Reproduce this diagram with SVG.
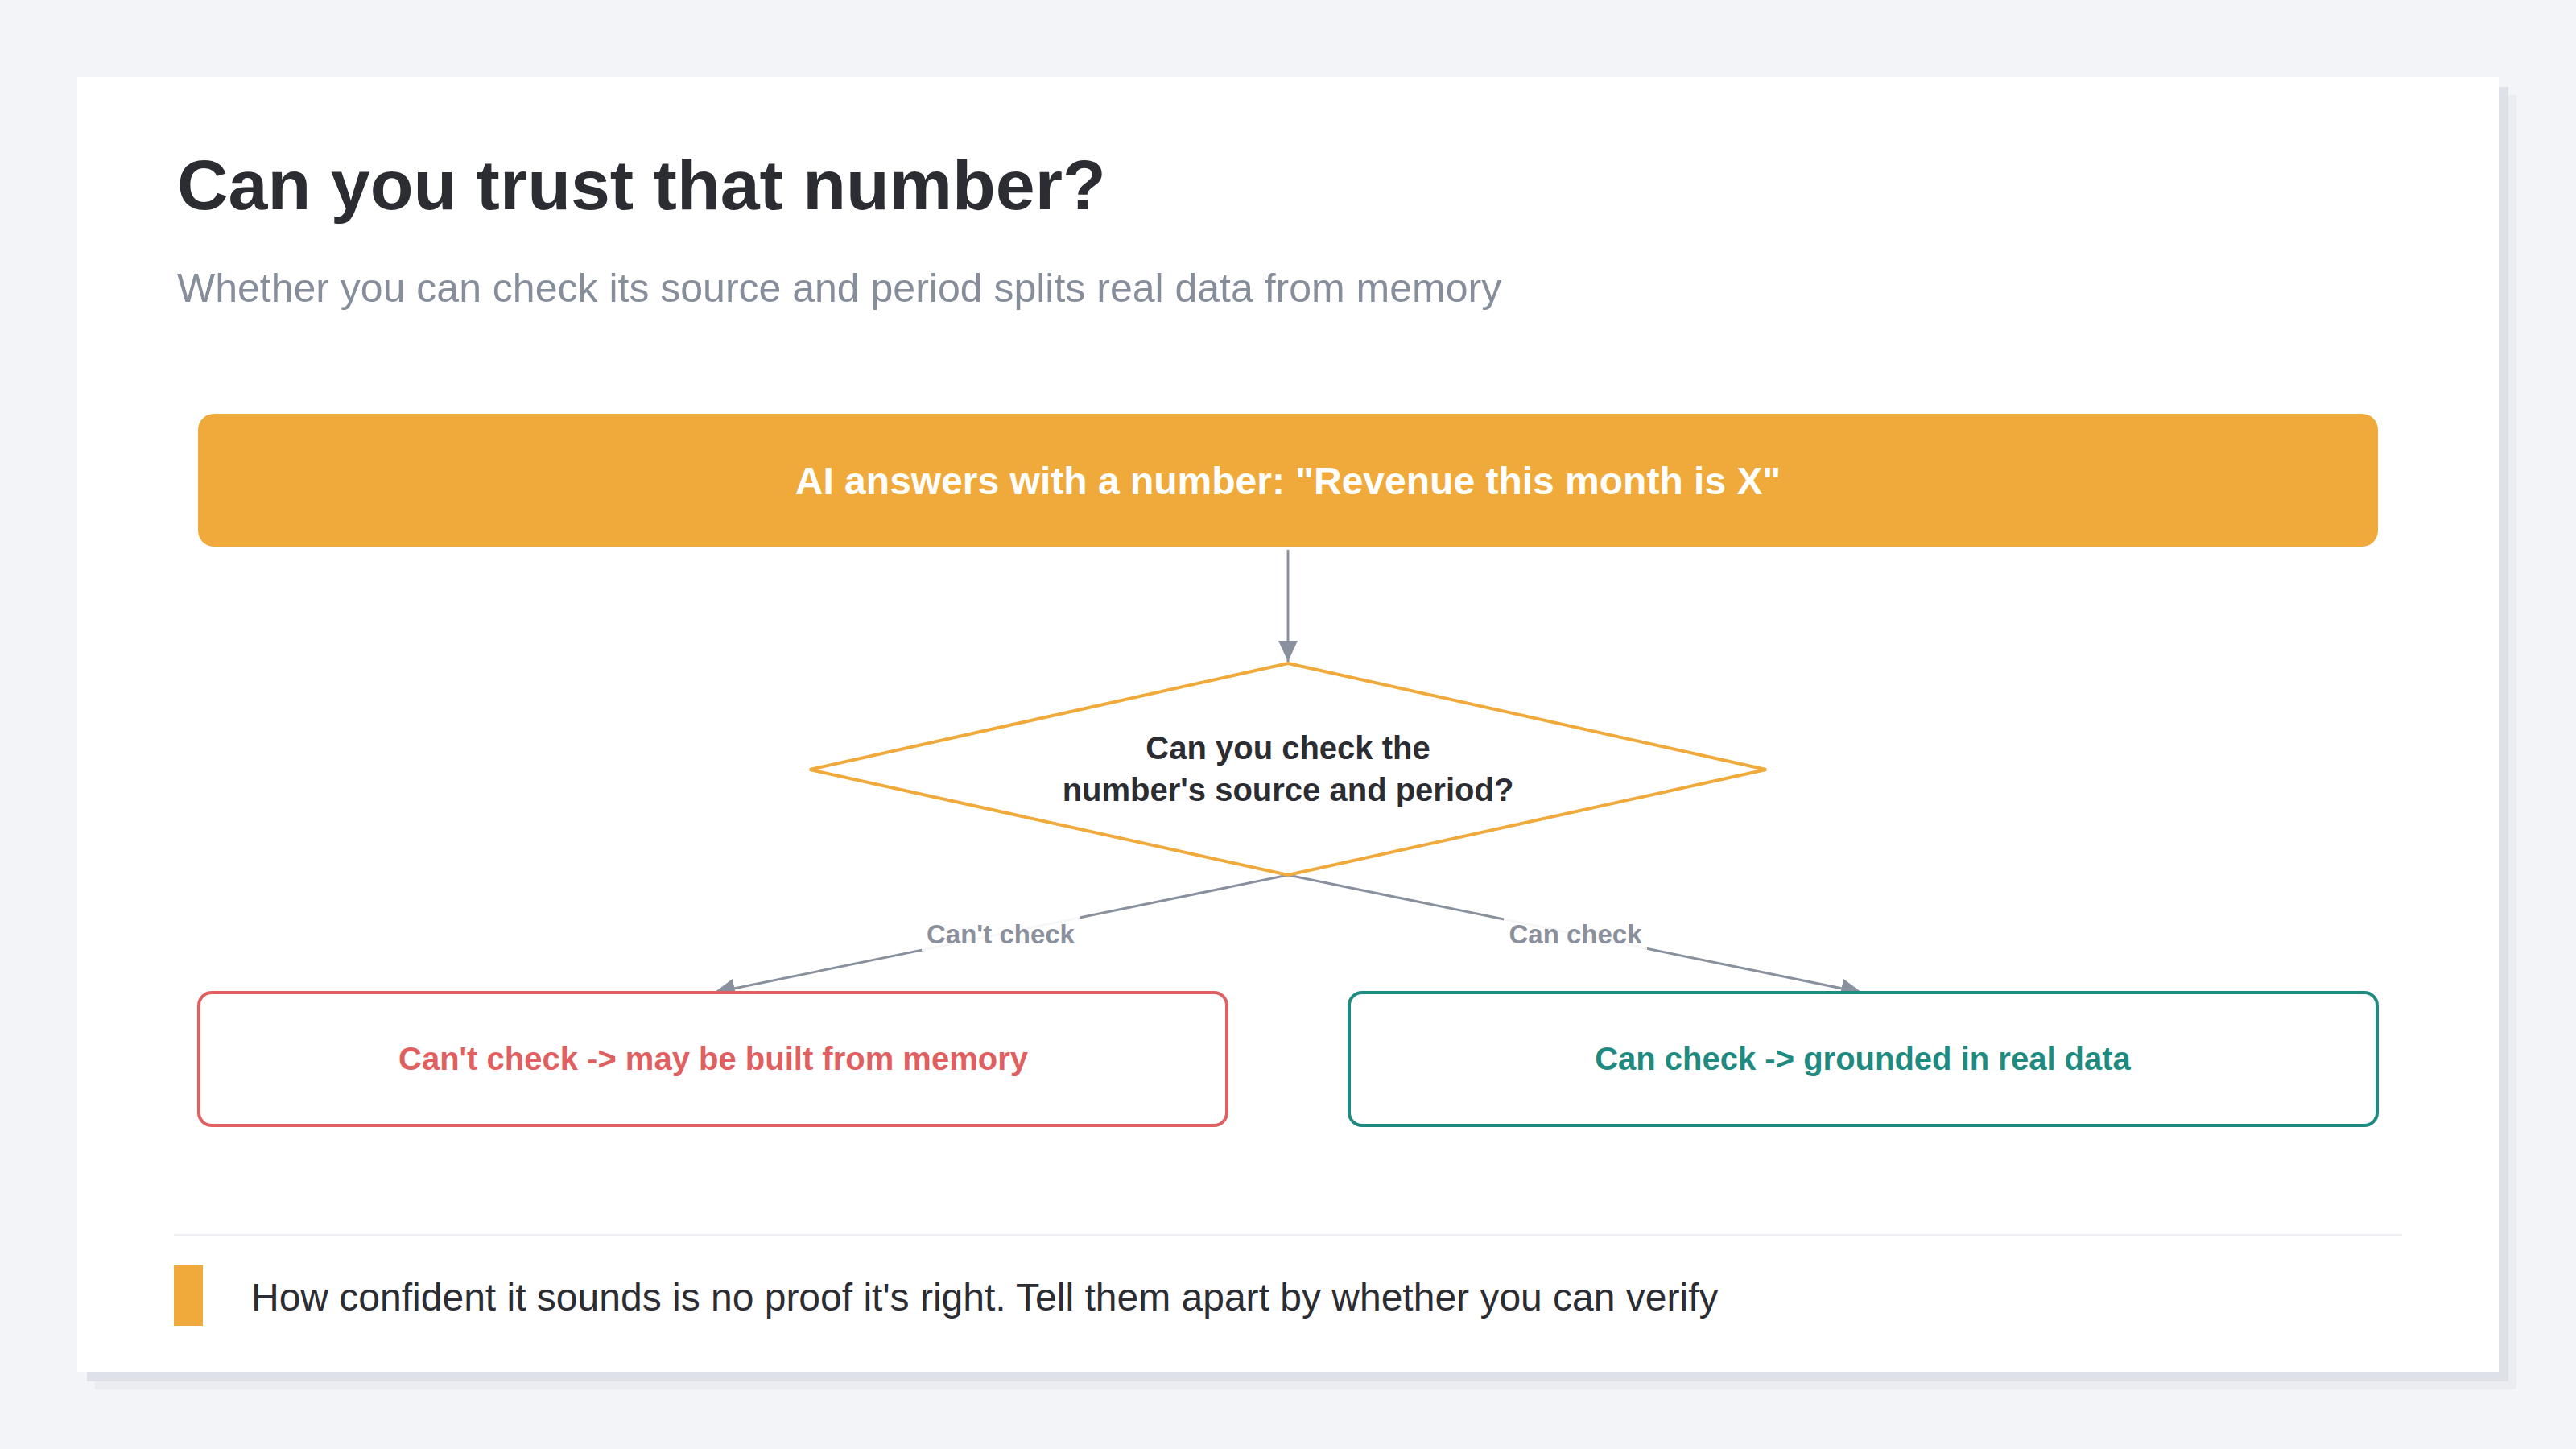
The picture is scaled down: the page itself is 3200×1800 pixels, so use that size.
<svg xmlns="http://www.w3.org/2000/svg" width="3200" height="1800" viewBox="0 0 3200 1800">
<style>
.t{font-family:"Liberation Sans",Arial,sans-serif}
.title{font-size:88px;font-weight:700;fill:#2b2d33}
.sub{font-size:50px;fill:#878e9b}
.top{font-size:48px;font-weight:700;fill:#ffffff}
.q{font-size:40px;font-weight:700;fill:#2b2d33}
.bad{font-size:40px;font-weight:700;fill:#e05f60}
.good{font-size:40px;font-weight:700;fill:#1f8a80}
.lbl{font-size:33px;font-weight:700;fill:#8a909c}
.foot{font-size:48px;fill:#2b2d33}
.conn{stroke:#8a919e;stroke-width:3;fill:none}
</style>
<defs>
<marker id="arr" markerWidth="26" markerHeight="24" refX="26" refY="12" orient="auto" markerUnits="userSpaceOnUse">
<path d="M0,0 L26,12 L0,24 Z" fill="#8a919e"/>
</marker>
</defs>
<rect x="0" y="0" width="3200" height="1800" fill="#f3f4f8"/>
<rect x="118" y="118" width="3008" height="1608" fill="#ebecf1"/>
<rect x="108" y="108" width="3008" height="1608" fill="#dfe1e8"/>
<rect x="96" y="96" width="3008" height="1608" fill="#ffffff"/>
<text class="t title" x="220" y="260">Can you trust that number?</text>
<text class="t sub" x="220" y="375">Whether you can check its source and period splits real data from memory</text>
<g id="connectors">
<line class="conn" x1="1600" y1="683" x2="1600" y2="822" marker-end="url(#arr)"/>
<line class="conn" x1="1600" y1="1087" x2="887" y2="1233" marker-end="url(#arr)"/>
<line class="conn" x1="1600" y1="1087" x2="2313" y2="1233" marker-end="url(#arr)"/>
<rect x="1145" y="1137" width="196" height="44" fill="#ffffff" opacity="0.92"/>
<text class="t lbl" x="1243" y="1172" text-anchor="middle">Can't check</text>
<rect x="1868" y="1137" width="178" height="44" fill="#ffffff" opacity="0.92"/>
<text class="t lbl" x="1957" y="1172" text-anchor="middle">Can check</text>
</g>
<g id="start">
<rect x="246" y="514" width="2708" height="165" rx="20" fill="#f0aa3c"/>
<text class="t top" x="1600" y="614" text-anchor="middle">AI answers with a number: "Revenue this month is X"</text>
</g>
<g id="decision">
<polygon points="1600,824 2194,956 1600,1087 1006,956" fill="#ffffff" stroke="#f0aa3c" stroke-width="4"/>
<text class="t q" x="1600" y="943" text-anchor="middle">Can you check the</text>
<text class="t q" x="1600" y="995" text-anchor="middle">number's source and period?</text>
</g>
<g id="cant">
<rect x="247" y="1233" width="1277" height="165" rx="16" fill="#ffffff" stroke="#e05f60" stroke-width="4"/>
<text class="t bad" x="886" y="1329" text-anchor="middle">Can't check -&gt; may be built from memory</text>
</g>
<g id="can">
<rect x="1676" y="1233" width="1277" height="165" rx="16" fill="#ffffff" stroke="#1f8a80" stroke-width="4"/>
<text class="t good" x="2314" y="1329" text-anchor="middle">Can check -&gt; grounded in real data</text>
</g>
<g id="footer">
<rect x="216" y="1533" width="2768" height="3" fill="#eceef2"/>
<rect x="216" y="1572" width="36" height="75" fill="#f0aa3c"/>
<text class="t foot" x="312" y="1628">How confident it sounds is no proof it's right. Tell them apart by whether you can verify</text>
</g>
</svg>
